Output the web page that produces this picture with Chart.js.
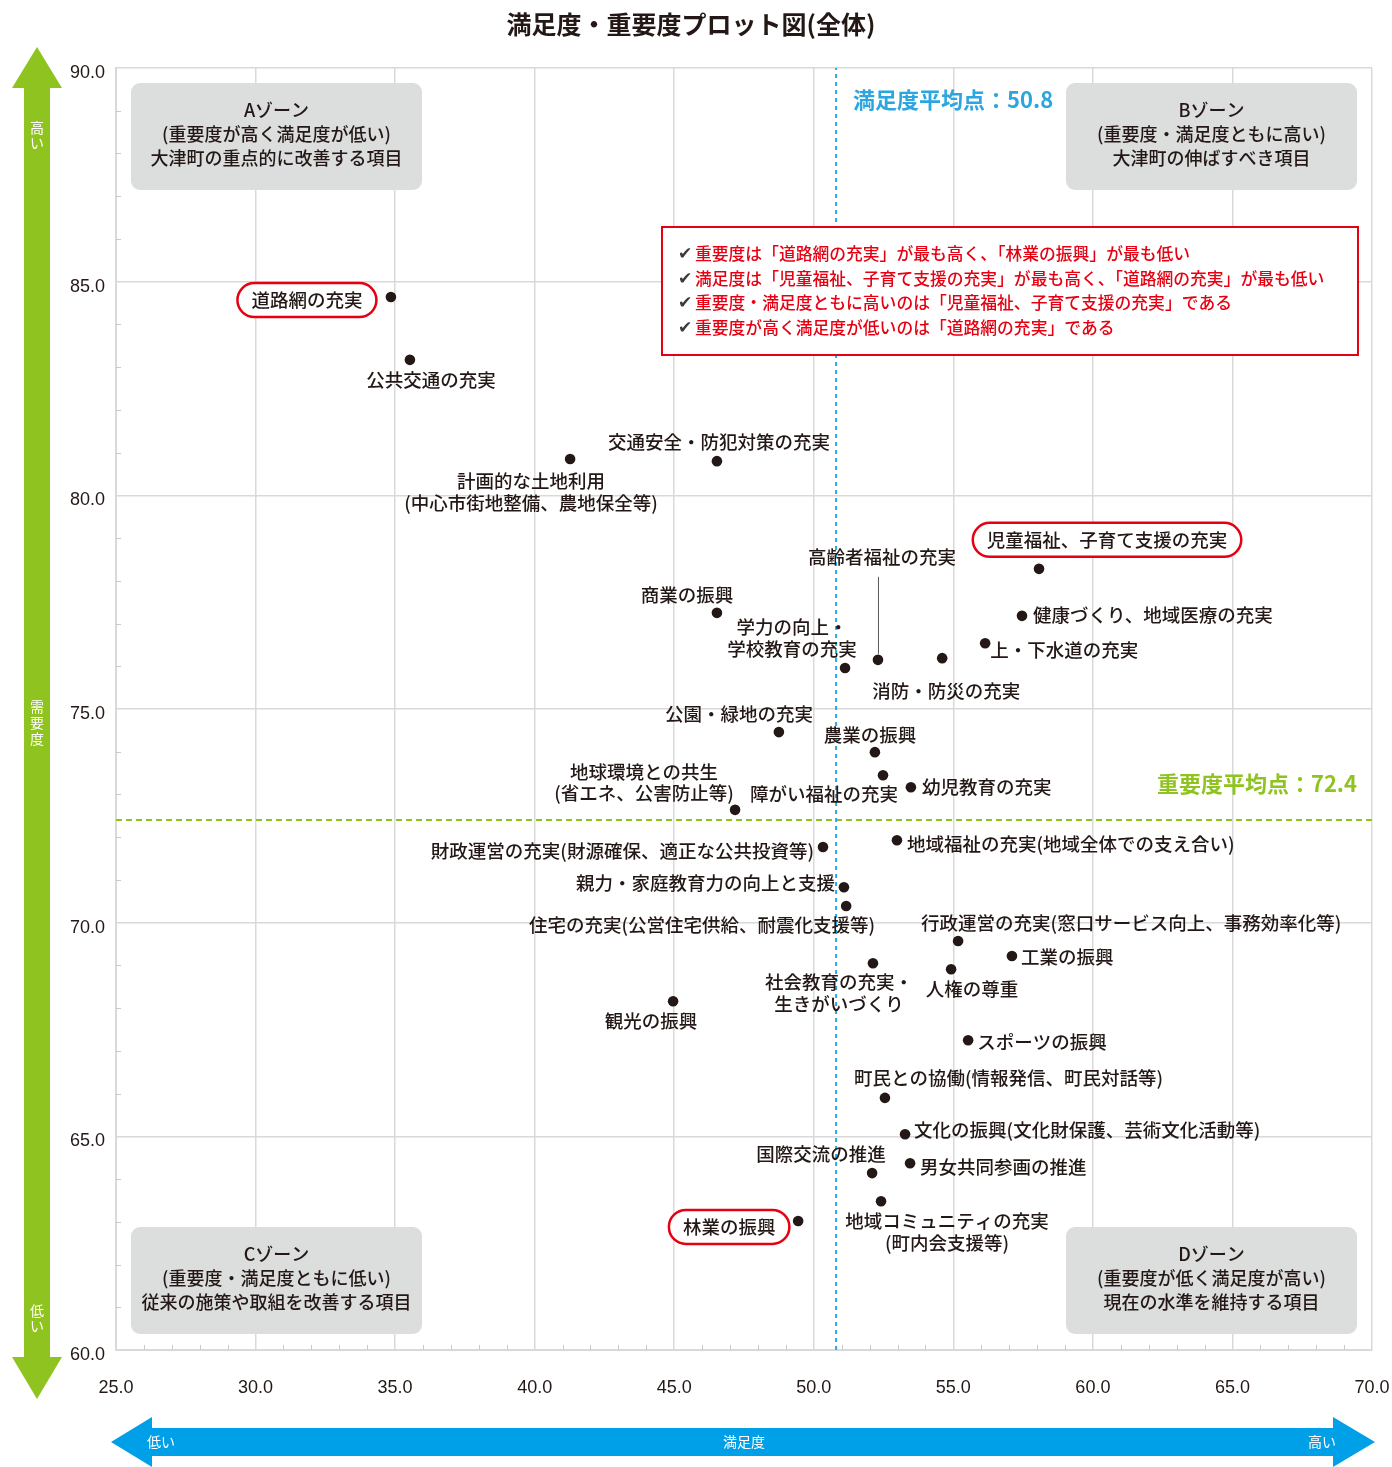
<!DOCTYPE html>
<html>
<head>
<meta charset="utf-8">
<script src="https://cdn.jsdelivr.net/npm/chart.js@4.4.1/dist/chart.umd.min.js"></script>
<style>
    html, body { margin: 0; padding: 0; background: #fff; }
    canvas { display: block; }
</style>
</head>
<body>
<canvas id="myChart" width="1392" height="1467"></canvas>
<script>
// Items (categories); "\n" marks a line break in the label
var items = [
    "道路網の充実",
    "公共交通の充実",
    "計画的な土地利用\n(中心市街地整備、農地保全等)",
    "交通安全・防犯対策の充実",
    "児童福祉、子育て支援の充実",
    "健康づくり、地域医療の充実",
    "上・下水道の充実",
    "消防・防災の充実",
    "高齢者福祉の充実",
    "学力の向上・\n学校教育の充実",
    "商業の振興",
    "公園・緑地の充実",
    "農業の振興",
    "障がい福祉の充実",
    "幼児教育の充実",
    "地球環境との共生\n(省エネ、公害防止等)",
    "地域福祉の充実(地域全体での支え合い)",
    "財政運営の充実(財源確保、適正な公共投資等)",
    "親力・家庭教育力の向上と支援",
    "住宅の充実(公営住宅供給、耐震化支援等)",
    "行政運営の充実(窓口サービス向上、事務効率化等)",
    "工業の振興",
    "社会教育の充実・\n生きがいづくり",
    "人権の尊重",
    "観光の振興",
    "スポーツの振興",
    "町民との協働(情報発信、町民対話等)",
    "文化の振興(文化財保護、芸術文化活動等)",
    "男女共同参画の推進",
    "国際交流の推進",
    "地域コミュニティの充実\n(町内会支援等)",
    "林業の振興"
];

// 満足度 (x)
var satisfaction = [
    34.85, 35.53, 41.27, 46.53, 58.07, 57.46, 56.14, 54.60,
    52.30, 51.12, 46.53, 48.75, 52.19, 52.48, 53.48, 47.18,
    52.98, 50.33, 51.08, 51.16, 55.17, 57.10, 52.12, 54.92,
    44.96, 55.53, 52.55, 53.27, 53.45, 52.09, 52.41, 49.44
];

// 重要度 (y)
var importance = [
    84.64, 83.17, 80.85, 80.80, 78.28, 77.18, 76.54, 76.19,
    76.15, 75.96, 77.25, 74.46, 73.99, 73.45, 73.17, 72.64,
    71.93, 71.77, 70.83, 70.39, 69.57, 69.22, 69.05, 68.91,
    68.16, 67.25, 65.90, 65.05, 64.37, 64.14, 63.48, 63.02
];

// Averages
var satAvg = 50.8;
var impAvg = 72.4;

// Axis ranges (major ticks every 5, minor every 1)
var xRange = [25, 70];
var yRange = [60, 90];

// Items circled in red
var highlighted = ["道路網の充実", "児童福祉、子育て支援の充実", "林業の振興"];

// Zone box texts
var zoneA = ["Aゾーン", "(重要度が高く満足度が低い)", "大津町の重点的に改善する項目"];
var zoneB = ["Bゾーン", "(重要度・満足度ともに高い)", "大津町の伸ばすべき項目"];
var zoneC = ["Cゾーン", "(重要度・満足度ともに低い)", "従来の施策や取組を改善する項目"];
var zoneD = ["Dゾーン", "(重要度が低く満足度が高い)", "現在の水準を維持する項目"];

// Summary notes
var notes = [
    "重要度は「道路網の充実」が最も高く、「林業の振興」が最も低い",
    "満足度は「児童福祉、子育て支援の充実」が最も高く、「道路網の充実」が最も低い",
    "重要度・満足度ともに高いのは「児童福祉、子育て支援の充実」である",
    "重要度が高く満足度が低いのは「道路網の充実」である"
];

// Label placement relative to each point: [dx, dy, align]
var labelPlace = [
    [-84, 3, "center"], [21, 20, "center"], [-39, 22, "center"], [2, -19, "center"],
    [68, -29, "center"], [11, -1, "left"], [5, 7, "left"], [4, 33, "center"],
    [4, -103, "center"], [-53, -41, "center"], [-30, -18, "center"], [-40, -18, "center"],
    [-5, -17, "center"], [-59, 19, "center"], [11, 0, "left"], [-91, -38, "center"],
    [10, 4, "left"], [-9, 4, "right"], [-9, -4, "right"], [29, 19, "right"],
    [-37, -18, "left"], [9, 1, "left"], [-34, 19, "center"], [21, 20, "center"],
    [-22, 20, "center"], [9, 2, "left"], [-31, -20, "left"], [9, -4, "left"],
    [10, 4, "left"], [-51, -19, "center"], [66, 20, "center"], [-69, 6, "center"]
];

var JP = "'Noto Sans CJK JP', 'Noto Sans', sans-serif";
var INK = "#231815";

function roundRect(ctx, x, y, w, h, r) {
    ctx.beginPath();
    ctx.moveTo(x + r, y);
    ctx.arcTo(x + w, y, x + w, y + h, r);
    ctx.arcTo(x + w, y + h, x, y + h, r);
    ctx.arcTo(x, y + h, x, y, r);
    ctx.arcTo(x, y, x + w, y, r);
    ctx.closePath();
}

function drawZone(ctx, x, y, lines) {
    ctx.fillStyle = "#dcdddd";
    roundRect(ctx, x, y, 291, 107, 9);
    ctx.fill();
    ctx.fillStyle = INK;
    ctx.font = "500 18px " + JP;
    ctx.textAlign = "center";
    ctx.textBaseline = "middle";
    lines.forEach(function (t, i) {
        ctx.fillText(t, x + 145.5, y + 27 + i * 24);
    });
}

var decor = {
    id: "decor",
    beforeDatasetsDraw: function (chart) {
        var ctx = chart.ctx, ca = chart.chartArea;
        var xs = chart.scales.x, ys = chart.scales.y;
        ctx.save();
        ctx.strokeStyle = "#c9caca";
        ctx.lineWidth = 1;
        xs.ticks.forEach(function (t) {
            if (t.value % 5 === 0) return;
            var px = Math.round(xs.getPixelForValue(t.value)) + 0.5;
            ctx.beginPath();
            ctx.moveTo(px, ca.bottom);
            ctx.lineTo(px, ca.bottom - 5);
            ctx.stroke();
        });
        ys.ticks.forEach(function (t) {
            if (t.value % 5 === 0) return;
            var py = Math.round(ys.getPixelForValue(t.value)) + 0.5;
            ctx.beginPath();
            ctx.moveTo(ca.left, py);
            ctx.lineTo(ca.left + 5, py);
            ctx.stroke();
        });
        ctx.restore();
    },
    beforeDatasetDraw: function (chart, args) {
        if (args.index !== 0) return;
        var ctx = chart.ctx, ca = chart.chartArea;
        ctx.save();
        drawZone(ctx, ca.left + 15, ca.top + 15, zoneA);
        drawZone(ctx, ca.right - 306, ca.top + 15, zoneB);
        drawZone(ctx, ca.left + 15, ca.bottom - 123, zoneC);
        drawZone(ctx, ca.right - 306, ca.bottom - 123, zoneD);

        // summary box
        var bx = ca.right - 710, by = ca.top + 159;
        ctx.fillStyle = "#fff";
        ctx.fillRect(bx, by, 696, 128);
        ctx.strokeStyle = "#e60012";
        ctx.lineWidth = 2;
        ctx.strokeRect(bx, by, 696, 128);
        ctx.textAlign = "left";
        ctx.textBaseline = "middle";
        notes.forEach(function (t, i) {
            var ly = by + 27 + i * 24.5;
            ctx.fillStyle = "#3e3a39";
            ctx.font = "17px 'DejaVu Sans', sans-serif";
            ctx.fillText("✔", bx + 16, ly + 1);
            ctx.fillStyle = "#e60012";
            ctx.font = "500 16.8px " + JP;
            ctx.fillText(t, bx + 33, ly);
        });
        ctx.restore();
    },
    afterDraw: function (chart) {
        var ctx = chart.ctx, ca = chart.chartArea;
        var xs = chart.scales.x, ys = chart.scales.y;
        ctx.save();

        // title
        ctx.fillStyle = INK;
        ctx.font = "bold 25px " + JP;
        ctx.textAlign = "center";
        ctx.textBaseline = "middle";
        ctx.fillText("満足度・重要度プロット図(全体)", 691, 24);

        // average labels
        ctx.font = "bold 22px " + JP;
        ctx.textAlign = "left";
        ctx.fillStyle = "#2ca6e0";
        ctx.fillText("満足度平均点：" + satAvg.toFixed(1), xs.getPixelForValue(satAvg) + 17, ca.top + 32);
        ctx.textAlign = "right";
        ctx.fillStyle = "#8fc31f";
        ctx.fillText("重要度平均点：" + impAvg.toFixed(1), ca.right - 15, ys.getPixelForValue(impAvg) - 36);

        // point labels
        ctx.font = "500 18.5px " + JP;
        ctx.fillStyle = INK;
        items.forEach(function (name, i) {
            var px = xs.getPixelForValue(satisfaction[i]);
            var py = ys.getPixelForValue(importance[i]);
            var pl = labelPlace[i];
            var lx = px + pl[0], ly = py + pl[1];
            var lines = name.split("\n");
            ctx.textAlign = pl[2];
            ctx.fillStyle = INK;
            if (highlighted.indexOf(name) >= 0) {
                var w = ctx.measureText(name).width + 28;
                ctx.fillStyle = "#fff";
                roundRect(ctx, lx - w / 2, ly - 17, w, 34, 17);
                ctx.fill();
                ctx.strokeStyle = "#e60012";
                ctx.lineWidth = 2.5;
                ctx.stroke();
                ctx.fillStyle = INK;
            }
            lines.forEach(function (t, k) {
                ctx.fillText(t, lx, ly + k * 21.5);
            });
            if (name === "高齢者福祉の充実") {
                ctx.strokeStyle = "#595757";
                ctx.lineWidth = 1;
                ctx.beginPath();
                ctx.moveTo(px + 0.5, py - 83);
                ctx.lineTo(px + 0.5, py - 6);
                ctx.stroke();
            }
        });

        // green vertical arrow (重要度)
        ctx.fillStyle = "#8fc31f";
        ctx.fillRect(24, ca.top + 18, 26, ca.bottom - ca.top - 10);
        ctx.beginPath();
        ctx.moveTo(37, ca.top - 21);
        ctx.lineTo(62, ca.top + 20);
        ctx.lineTo(12, ca.top + 20);
        ctx.closePath();
        ctx.fill();
        ctx.beginPath();
        ctx.moveTo(12, ca.bottom + 7);
        ctx.lineTo(62, ca.bottom + 7);
        ctx.lineTo(37, ca.bottom + 49);
        ctx.closePath();
        ctx.fill();

        ctx.fillStyle = "#fff";
        ctx.font = "14px " + JP;
        ctx.textAlign = "center";
        ctx.textBaseline = "middle";
        ctx.fillText("高", 37, 128);
        ctx.fillText("い", 37, 143);
        ctx.fillText("需", 37, 707);
        ctx.fillText("要", 37, 723);
        ctx.fillText("度", 37, 739);
        ctx.fillText("低", 37, 1311);
        ctx.fillText("い", 37, 1326);

        // blue horizontal arrow (満足度)
        ctx.fillStyle = "#00a0e9";
        ctx.fillRect(150, 1428, 1185, 28);
        ctx.beginPath();
        ctx.moveTo(111, 1442);
        ctx.lineTo(152, 1417);
        ctx.lineTo(152, 1467);
        ctx.closePath();
        ctx.fill();
        ctx.beginPath();
        ctx.moveTo(1333, 1417);
        ctx.lineTo(1375, 1442);
        ctx.lineTo(1333, 1467);
        ctx.closePath();
        ctx.fill();

        ctx.fillStyle = "#fff";
        ctx.font = "14px " + JP;
        ctx.textAlign = "left";
        ctx.fillText("低い", 147, 1442);
        ctx.textAlign = "center";
        ctx.fillText("満足度", 744, 1442);
        ctx.textAlign = "right";
        ctx.fillText("高い", 1336, 1442);

        ctx.restore();
    }
};

function majorGrid(ctx) {
    return ctx.tick && ctx.tick.value % 5 === 0 ? "#d9d9d9" : "rgba(0,0,0,0)";
}

var points = satisfaction.map(function (x, i) {
    return { x: x, y: importance[i] };
});

var config = {
    type: "scatter",
    data: {
        datasets: [
            {
                label: "items",
                data: points,
                pointRadius: 5.3,
                pointHoverRadius: 5.3,
                backgroundColor: INK,
                borderWidth: 0,
                order: 0
            },
            {
                type: "line",
                label: "satAvg",
                data: [{ x: satAvg, y: yRange[0] }, { x: satAvg, y: yRange[1] }],
                borderColor: "#2ca6e0",
                borderWidth: 2,
                borderDash: [4, 4],
                pointRadius: 0,
                fill: false,
                order: 1
            },
            {
                type: "line",
                label: "impAvg",
                data: [{ x: xRange[0], y: impAvg }, { x: xRange[1], y: impAvg }],
                borderColor: "#8fc31f",
                borderWidth: 2,
                borderDash: [6, 4],
                pointRadius: 0,
                fill: false,
                order: 1
            }
        ]
    },
    options: {
        responsive: false,
        animation: false,
        devicePixelRatio: 1,
        layout: { padding: { top: 68, right: 20, left: 0, bottom: 0 } },
        plugins: {
            legend: { display: false },
            tooltip: { enabled: false }
        },
        scales: {
            x: {
                type: "linear",
                min: xRange[0],
                max: xRange[1],
                afterFit: function (s) {
                    s.height = 117;
                    s.paddingLeft = 0;
                    s.paddingRight = 0;
                },
                grid: { color: majorGrid, lineWidth: 1.5, drawTicks: false },
                border: { color: "#d9d9d9", width: 2 },
                ticks: {
                    stepSize: 1,
                    autoSkip: false,
                    maxRotation: 0,
                    padding: 27,
                    color: INK,
                    font: { family: "'Liberation Sans', Arial, sans-serif", size: 18 },
                    callback: function (v) { return v % 5 === 0 ? v.toFixed(1) : ""; }
                }
            },
            y: {
                type: "linear",
                min: yRange[0],
                max: yRange[1],
                afterFit: function (s) {
                    s.width = 116;
                    s.paddingTop = 0;
                    s.paddingBottom = 0;
                },
                grid: { color: majorGrid, lineWidth: 1.5, drawTicks: false },
                border: { color: "#d9d9d9", width: 2 },
                ticks: {
                    stepSize: 1,
                    autoSkip: false,
                    padding: 11,
                    labelOffset: 5,
                    color: INK,
                    font: { family: "'Liberation Sans', Arial, sans-serif", size: 18 },
                    callback: function (v) { return v % 5 === 0 ? v.toFixed(1) : ""; }
                }
            }
        }
    },
    plugins: [decor]
};

var myChart = new Chart(document.getElementById("myChart"), config);
</script>
</body>
</html>
